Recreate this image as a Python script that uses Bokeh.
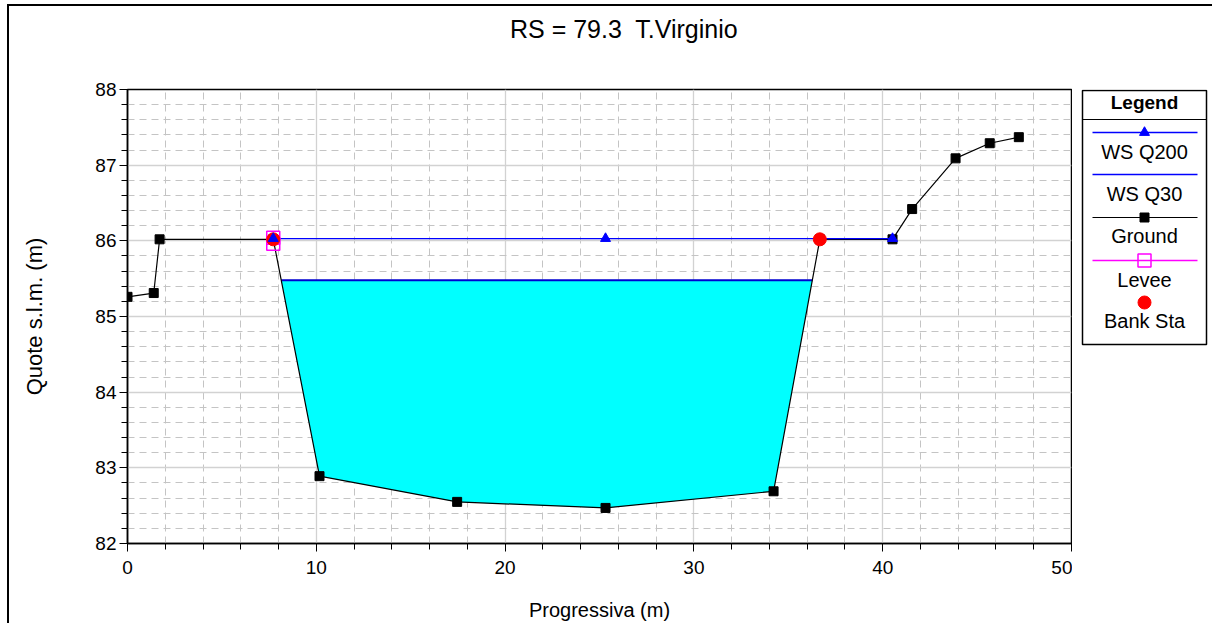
import numpy as np
from bokeh.plotting import figure
from bokeh.models import Range1d, FixedTicker, Div
from bokeh.layouts import row, column
from bokeh.embed import file_html
from bokeh.resources import INLINE
from bokeh.core.properties import value

# ---------------- data ----------------
TITLE = "RS = 79.3  T.Virginio"
X_LABEL = "Progressiva (m)"
Y_LABEL = "Quote s.l.m. (m)"

ground_x = [0.0, 1.39, 1.70, 7.72, 10.17, 17.46, 25.32, 34.22, 36.67, 40.52, 41.56, 43.86, 45.67, 47.21]
ground_y = [85.26, 85.31, 86.02, 86.02, 82.89, 82.55, 82.47, 82.69, 86.02, 86.02, 86.42, 87.09, 87.29, 87.37]

ws_q200_x = [7.72, 25.32, 40.52]
ws_q200_y = [86.03, 86.03, 86.03]

ws_q30_elev = 85.48

levee_x = [7.72, 7.72]
levee_y = [86.04, 85.96]

bank_x = [7.72, 36.67]
bank_y = [86.02, 86.02]

legend_labels = ["WS Q200", "WS Q30", "Ground", "Levee", "Bank Sta"]

x_major = [0, 10, 20, 30, 40, 50]
x_minor = [v for v in range(2, 50, 2) if v % 10 != 0]
y_major = [82, 83, 84, 85, 86, 87, 88]
y_minor = [round(82 + 0.2 * i, 1) for i in range(1, 30) if i % 5 != 0]

FONT = "Liberation Sans"
BLUE = "#0000FF"
BLUE_DARK = "#0000D0"

TITLE_H = 46
H = 617 - TITLE_H

# ---------------- water polygon (WS Q30) ----------------
gx = np.array(ground_x)
gy = np.array(ground_y)
inside = (gy < ws_q30_elev) & (gx > bank_x[0]) & (gx < bank_x[1])
idx = np.where(inside)[0]
i0, i1 = idx[0], idx[-1]


def cross(a, b):
    t = (ws_q30_elev - gy[a]) / (gy[b] - gy[a])
    return gx[a] + t * (gx[b] - gx[a])


xl = cross(i0 - 1, i0)
xr = cross(i1, i1 + 1)
water_x = [xl] + list(gx[i0:i1 + 1]) + [xr]
water_y = [ws_q30_elev] + list(gy[i0:i1 + 1]) + [ws_q30_elev]

# ---------------- title ----------------
title_div = Div(
    text=f'<div style="font-family:\'{FONT}\'; font-size:25px; color:black; white-space:pre; '
         f'padding-left:501px; line-height:{TITLE_H}px;">{TITLE}</div>',
    width=1203, height=TITLE_H, margin=0)

# ---------------- main figure ----------------
p = figure(width=1063, height=H, x_range=Range1d(0, 50), y_range=Range1d(82, 88),
           output_backend="svg", toolbar_location=None,
           min_border_left=118, min_border_right=1, min_border_top=83 - TITLE_H, min_border_bottom=80)
p.background_fill_color = "white"
p.border_fill_color = "white"
p.outline_line_color = "black"
p.outline_line_width = 1.5

xt = FixedTicker(ticks=x_major, minor_ticks=x_minor)
yt = FixedTicker(ticks=y_major, minor_ticks=y_minor)
p.xaxis.ticker = xt
p.yaxis.ticker = yt
p.xgrid.ticker = xt
p.ygrid.ticker = yt

p.xaxis.axis_label = X_LABEL
p.yaxis.axis_label = Y_LABEL
for ax in (p.xaxis, p.yaxis):
    ax.axis_label_text_font = FONT
    ax.axis_label_text_font_size = "20px"
    ax.axis_label_text_font_style = "normal"
    ax.axis_label_text_color = "black"
    ax.major_label_text_font = FONT
    ax.major_label_text_font_size = "19px"
    ax.major_label_text_color = "black"
    ax.axis_line_color = "black"
    ax.axis_line_width = 1.5
    ax.major_tick_line_color = "black"
    ax.minor_tick_line_color = "black"
    ax.major_tick_in = 0
    ax.major_tick_out = 8
    ax.minor_tick_in = 0
    ax.minor_tick_out = 6
p.yaxis.axis_label_text_font_size = "22px"
p.xaxis.major_label_standoff = 9
p.xaxis.axis_label_standoff = 22
p.yaxis.major_label_standoff = 3
p.yaxis.axis_label_standoff = 45

for g in (p.xgrid, p.ygrid):
    g.grid_line_color = "#D2D2D2"
    g.grid_line_width = 1.3
    g.minor_grid_line_color = "#C4C4C4"
    g.minor_grid_line_width = 1
    g.minor_grid_line_dash = "7 5"

# water fill and WS Q30
p.patch(water_x, water_y, fill_color="#00FFFF", line_color=None)
p.line([xl, xr], [ws_q30_elev, ws_q30_elev], line_color=BLUE_DARK, line_width=2)

# ground
p.line(ground_x, ground_y, line_color="black", line_width=1.2)
p.scatter(ground_x, ground_y, marker="square", size=9, fill_color="black", line_color="black")

# WS Q200 line
p.line(ws_q200_x, ws_q200_y, line_color=BLUE, line_width=1.3)

# levee
p.scatter(levee_x, levee_y, marker="square", size=13, fill_color=None, line_color="#FF00FF", line_width=1.5)

# bank stations
p.scatter(bank_x, bank_y, marker="circle", size=13, fill_color="#FF0000", line_color="#FF0000")

# WS Q200 markers
p.scatter(ws_q200_x, ws_q200_y, marker="triangle", size=10, fill_color=BLUE, line_color=BLUE)

# ---------------- legend figure (frame aligned with main frame, 1 unit = 1 px) ----------------
lg = figure(width=140, height=H, x_range=Range1d(-2, 126), y_range=Range1d(454, 0),
            output_backend="svg", toolbar_location=None, x_axis_type=None, y_axis_type=None,
            min_border_left=8, min_border_right=4, min_border_top=83 - TITLE_H, min_border_bottom=80)
lg.grid.visible = False
lg.background_fill_color = "white"
lg.border_fill_color = "white"
lg.outline_line_color = None

lg.quad(left=[0], right=[124], top=[1], bottom=[255], fill_color="white",
        line_color="black", line_width=1.5)
lg.segment(x0=[0], y0=[30], x1=[124], y1=[30], line_color="black", line_width=1)
lg.text(x=[62], y=[12.5], text=["Legend"], text_align="center", text_baseline="alphabetic",
        text_font=value(FONT), text_font_size="19px", text_font_style="bold", text_color="black")

# sample lines
lg.segment(x0=[10], y0=[43], x1=[115], y1=[43], line_color=BLUE, line_width=1.3)
lg.segment(x0=[10], y0=[85], x1=[115], y1=[85], line_color=BLUE, line_width=1.5)
lg.segment(x0=[10], y0=[128], x1=[115], y1=[128], line_color="black", line_width=1.2)
lg.segment(x0=[10], y0=[171], x1=[115], y1=[171], line_color="#FF00FF", line_width=1.5)

lg.scatter([62], [43], marker="triangle", size=10, fill_color=BLUE, line_color=BLUE)
lg.scatter([62], [128], marker="square", size=9, fill_color="black", line_color="black")
lg.scatter([62], [171], marker="square", size=13, fill_color=None, line_color="#FF00FF", line_width=1.5)
lg.scatter([62], [213], marker="circle", size=13, fill_color="#FF0000", line_color="#FF0000")

lg.text(x=[62] * 5, y=[62.5, 104, 146.5, 190, 231.5], text=legend_labels, text_align="center",
        text_baseline="alphabetic", text_font=value(FONT), text_font_size="20px", text_color="black")

layout = column(title_div, row(p, lg, margin=0), margin=(4, 0, 0, 7),
                styles={"border-left": "2px solid black", "border-top": "2px solid black",
                        "background-color": "white"})

open("out.html", "w").write(file_html(layout, INLINE))
